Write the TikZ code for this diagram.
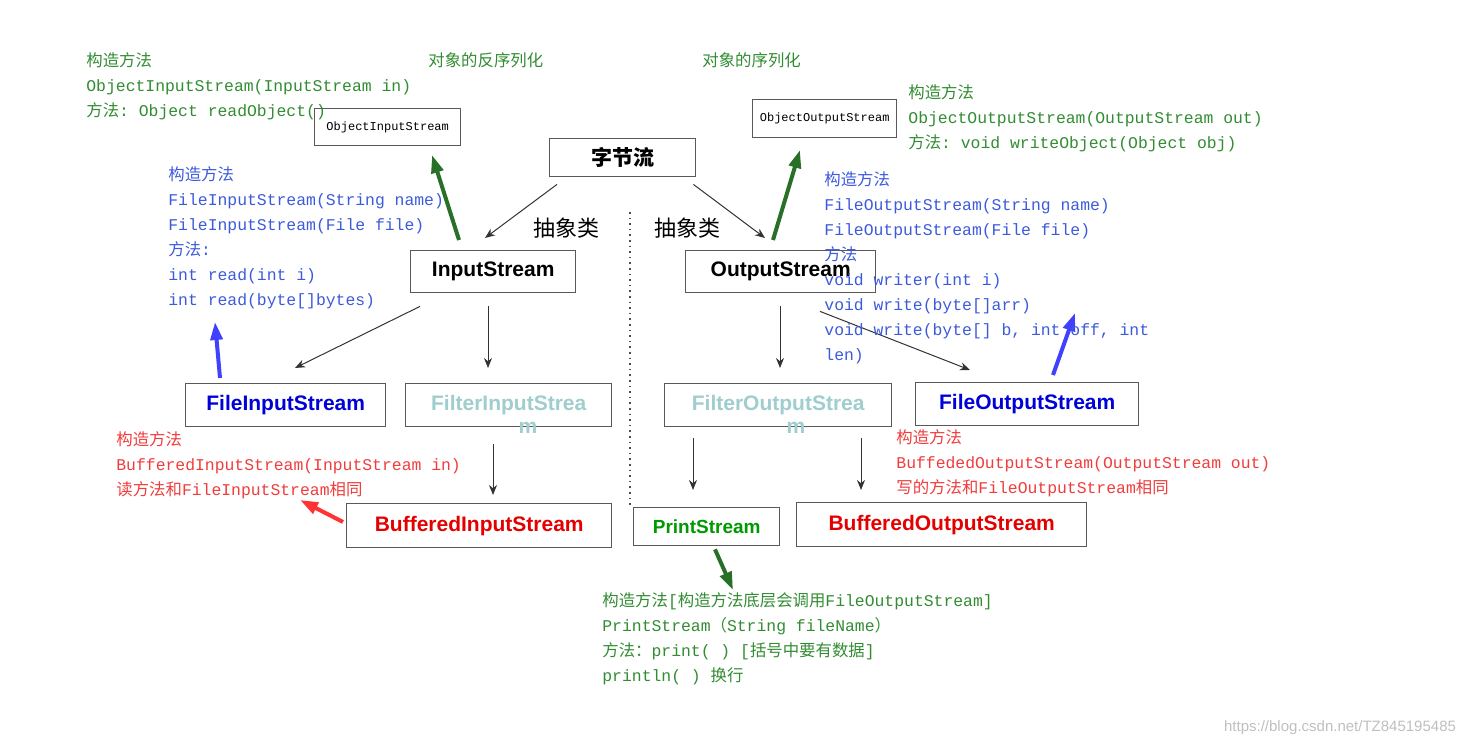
\documentclass[tikz,border=0pt]{standalone}
\usepackage{fontspec}
\setmainfont{Liberation Sans}
\setmonofont{Liberation Mono}
\newfontfamily\cjk{Noto Sans CJK SC}
\usetikzlibrary{arrows.meta}
\definecolor{tg}{RGB}{50,140,50}
\definecolor{tb}{RGB}{60,90,220}
\definecolor{tr}{RGB}{240,60,60}
\definecolor{teal}{RGB}{160,205,205}
\begin{document}
\begin{tikzpicture}[x=0.5pt,y=-0.5pt,
  box/.style={draw=black!65,line width=0.7pt,fill=white,inner sep=0pt,anchor=north west},
  big/.style={font=\fontsize{10.5}{12}\selectfont\bfseries},
  txt/.style={anchor=north west,align=left,inner sep=0pt,font=\fontsize{8.2}{12.5}\selectfont\ttfamily},
  thin/.style={-{Stealth[length=5pt,width=4pt]},line width=0.5pt,black!80},
  thick/.style={-{Triangle[length=9pt,width=6pt]},line width=2pt}]
\useasboundingbox (0,0) rectangle (1472,747);
% dotted separator
\draw[dotted,line width=0.8pt,black!70] (630,212) -- (630,505);
% boxes
\node[box,minimum width=73pt,minimum height=18.5pt,font=\fontsize{6}{7}\selectfont\ttfamily] (ois) at (314,108) {ObjectInputStream};
\node[box,minimum width=72pt,minimum height=19pt,font=\fontsize{6}{7}\selectfont\ttfamily] (oos) at (752,99) {ObjectOutputStream};
\node[box,minimum width=73pt,minimum height=19pt,big] (bs) at (549,138) {\cjk\bfseries 字节流};
\node[box,minimum width=82.5pt,minimum height=21pt,big] (is) at (410,250) {InputStream};
\node[box,minimum width=95pt,minimum height=21pt,big] (os) at (685,250) {OutputStream};
\node[box,minimum width=100pt,minimum height=21.5pt,big,text=blue!85!black] (fis) at (185,383) {FileInputStream};
\node[box,minimum width=103pt,minimum height=21.5pt,big,text=teal] (filis) at (405,383) {FilterInputStrea};
\node[box,minimum width=113.5pt,minimum height=21.5pt,big,text=teal] (filos) at (664,383) {FilterOutputStrea};
\node[box,minimum width=111.5pt,minimum height=21.5pt,big,text=blue!85!black] (fos) at (915,382) {FileOutputStream};
\node[box,minimum width=132.5pt,minimum height=22pt,big,text=red!90!black] (bis) at (346,503) {BufferedInputStream};
\node[box,minimum width=73pt,minimum height=19pt,font=\fontsize{9.5}{11}\selectfont\bfseries,text=green!60!black] (ps) at (633,507) {PrintStream};
\node[box,minimum width=145pt,minimum height=22pt,big,text=red!90!black] (bos) at (796,502) {BufferedOutputStream};
\node[big,text=teal] (m1) at (528,428) {m};
\node[big,text=teal] (m2) at (796,428) {m};
% thin arrows
\coordinate (a1) at (485,238); \coordinate (a2) at (765,238);
\draw[thin] (bs.south west)++(8,7) -- (a1);
\draw[thin] (bs.south east)++(-3,7) -- (a2);
\coordinate (b1) at (295,368); \coordinate (b2) at (488,368);
\draw[thin] ([shift={(10,13)}]is.south west) -- (b1);
\draw[thin] ([shift={(78,13)}]is.south west) -- (b2);
\coordinate (c1) at (780,368); \coordinate (c2) at (970,370);
\draw[thin] ([shift={(95,13)}]os.south west) -- (c1);
\draw[thin] ([shift={(135,18)}]os.south west) -- (c2);
\coordinate (d1) at (493,495);
\draw[thin] ([shift={(88,17)}]filis.south west) -- (d1);
\draw[thin] ([shift={(29,11)}]filos.south west) -- ([shift={(60,-17)}]ps.north west);
\draw[thin] ([shift={(197,11)}]filos.south west) -- ([shift={(65,-12)}]bos.north west);
% thick arrows
\coordinate (g1) at (432,155); \coordinate (g2) at (800,150);
\draw[thick,tg!80!black] ([shift={(49,-10)}]is.north west) -- (g1);
\draw[thick,tg!80!black] ([shift={(88,-10)}]os.north west) -- (g2);
\coordinate (bl1) at (215,322); \coordinate (bl2) at (1075,313);
\draw[thick,blue!75] ([shift={(35,-5)}]fis.north west) -- (bl1);
\draw[thick,blue!75] ([shift={(138,-7)}]fos.north west) -- (bl2);
\coordinate (r1) at (300,500);
\draw[thick,red!80] ([shift={(-3,19)}]bis.north west) -- (r1);
\coordinate (pg) at (733,590);
\draw[thick,tg!80!black] ([shift={(82,3)}]ps.south west) -- (pg);
% labels
\node[font=\fontsize{11}{12}\selectfont\cjk] (ab1) at (566,228) {抽象类};
\node[font=\fontsize{11}{12}\selectfont\cjk] (ab2) at (687,228) {抽象类};
\node[txt,text=tg] (t1) at (428,52) {\cjk 对象的反序列化};
\node[txt,text=tg] (t2) at (702,52) {\cjk 对象的序列化};
\node[txt,text=tg] (g1t) at (86,52) {{\cjk 构造方法}\\ObjectInputStream(InputStream in)\\{\cjk 方法}: Object readObject()};
\node[txt,text=tg] (g2t) at (908,84) {{\cjk 构造方法}\\ObjectOutputStream(OutputStream out)\\{\cjk 方法}: void writeObject(Object obj)};
\node[txt,text=tb] (b1t) at (168,166) {{\cjk 构造方法}\\FileInputStream(String name)\\FileInputStream(File file)\\{\cjk 方法}:\\int read(int i)\\int read(byte[]bytes)};
\node[txt,text=tb] (b2t) at (824,171) {{\cjk 构造方法}\\FileOutputStream(String name)\\FileOutputStream(File file)\\{\cjk 方法}\\void writer(int i)\\void write(byte[]arr)\\void write(byte[] b, int off, int\\len)};
\node[txt,text=tr] (r1t) at (116,431) {{\cjk 构造方法}\\BufferedInputStream(InputStream in)\\{\cjk 读方法和}FileInputStream{\cjk 相同}};
\node[txt,text=tr] (r2t) at (896,429) {{\cjk 构造方法}\\BuffededOutputStream(OutputStream out)\\{\cjk 写的方法和}FileOutputStream{\cjk 相同}};
\node[txt,text=tg] (pt) at (602,592) {{\cjk 构造方法}[{\cjk 构造方法底层会调用}FileOutputStream]\\PrintStream{\cjk （}String fileName{\cjk ）}\\{\cjk 方法：}print( ) [{\cjk 括号中要有数据}]\\println( ) {\cjk 换行}};
\node[anchor=east,text=black!25,font=\fontsize{7.5}{9}\selectfont] (wm) at (1463,728) {https://blog.csdn.net/TZ845195485};
\end{tikzpicture}
\end{document}
